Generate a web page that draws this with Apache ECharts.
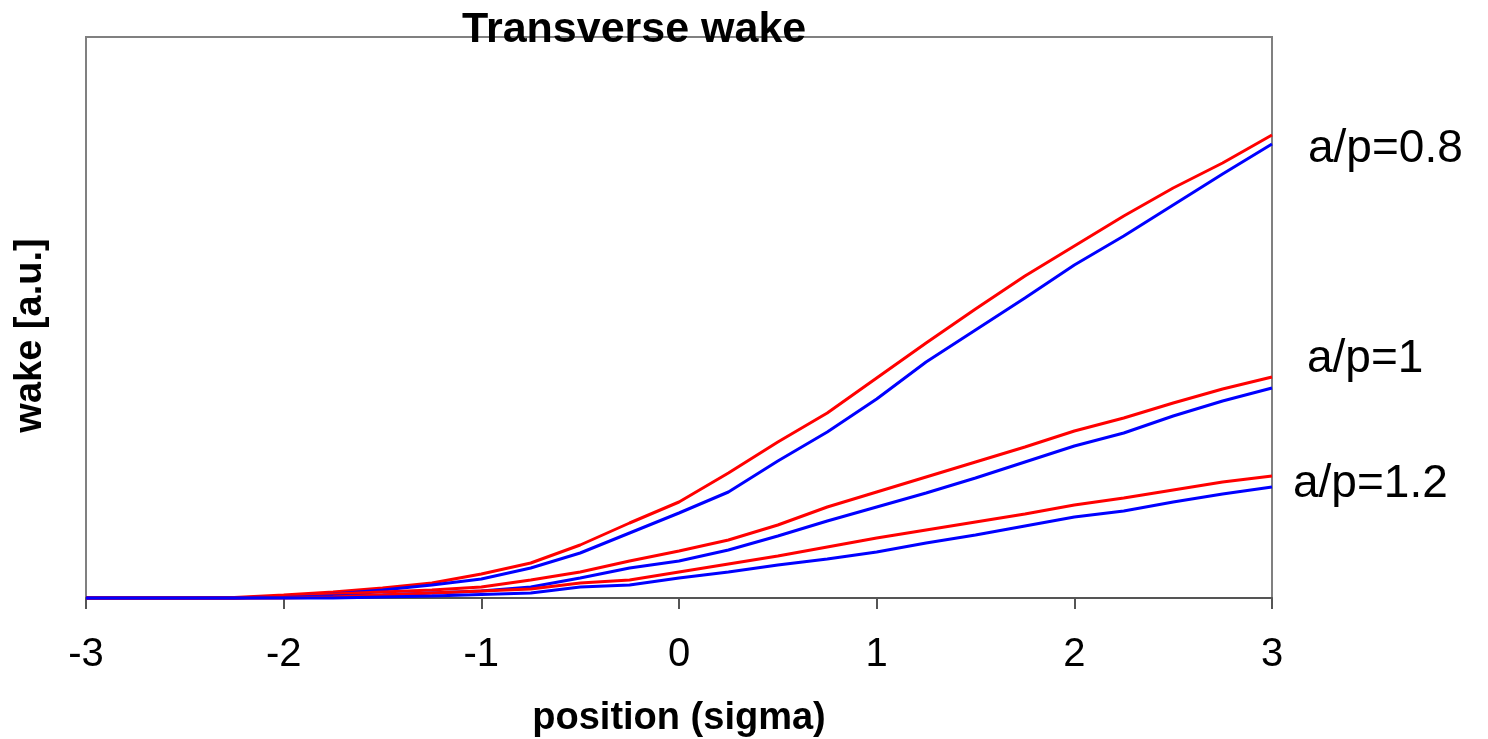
<!DOCTYPE html>
<html>
<head>
<meta charset="utf-8">
<script src="https://cdn.jsdelivr.net/npm/echarts@6/dist/echarts.min.js"></script>
<style>html,body{margin:0;padding:0;background:#fff}#c{width:1488px;height:739px}</style>
</head>
<body>
<div id="c"></div>
<script>
const positions = [-3,-2.75,-2.5,-2.25,-2,-1.75,-1.5,-1.25,-1,-0.75,-0.5,-0.25,0,0.25,0.5,0.75,1,1.25,1.5,1.75,2,2.25,2.5,2.75,3];
const red08  = [0,0,0,0.5,3,6,10,15,24,35,53,75,96,125,156,185,220,255,289,322,352,382,410,435,463];
const blue08 = [0,0,0,0,1.5,4,8,13,19,30,45,65,85,106,137,166,199,236,268,300,333,362,393,424,454];
const red10  = [0,0,0,0,2,4,6,8,11,18,26,37,47,58,73,91,106,121,136,151,167,180,195,209,221];
const blue10 = [0,0,0,0,0.5,2,3,5,7,11,20,30,37,48,62,77,91,105,120,136,152,165,182,197,210];
const red12  = [0,0,0,0,0,1,3,5,7,9,15,18,26,34,42,51,60,68,76,84,93,100,108,116,122];
const blue12 = [0,0,0,0,0,0,1,2,3.5,5,11,13,20,26,33,39,46,55,63,72,81,87,96,104,111];
const xTicks = [-3,-2,-1,0,1,2,3];
const labels = ['a/p=0.8','a/p=1','a/p=1.2'];

const FONT = '"Liberation Sans", Arial, sans-serif';
const zip = ys => positions.map((x,i)=>[x, ys[i]]);

function mk(name, ys, color, label, off){
  const s = {
    name, type:'line', data: zip(ys), showSymbol:false, symbol:'none', clip:false,
    lineStyle:{color, width:3}, itemStyle:{color}, z: 3
  };
  if(label){
    s.endLabel = {show:true, formatter: label, color:'#000', fontSize:46, fontFamily:FONT,
      distance:0, offset: off, align:'left', verticalAlign:'middle'};
  }
  return s;
}

const chart = echarts.init(document.getElementById('c'), null, {renderer:'canvas'});
chart.setOption({
  animation:false,
  backgroundColor:'#fff',
  title:{text:'Transverse wake', left:457, top:4,
    textStyle:{fontSize:43, fontWeight:'bold', color:'#000', fontFamily:FONT}},
  grid:{left:86, top:37, width:1186, height:561, show:true, borderColor:'#808080', borderWidth:2,
    backgroundColor:'transparent', containLabel:false, outerBoundsMode:'none'},
  xAxis:{type:'value', min:-3, max:3, interval:1,
    axisLine:{show:true, onZero:false, lineStyle:{color:'#555', width:2}},
    axisTick:{show:true, length:11, lineStyle:{color:'#555', width:2}},
    splitLine:{show:false},
    axisLabel:{fontSize:40, color:'#000', fontFamily:FONT, margin:37,
      customValues: xTicks},
    name:'position (sigma)', nameLocation:'middle', nameGap:102,
    nameTextStyle:{fontSize:38, fontWeight:'bold', color:'#000', fontFamily:FONT}},
  yAxis:{type:'value', min:0, max:561,
    axisLine:{show:false}, axisTick:{show:false}, axisLabel:{show:false}, splitLine:{show:false},
    name:'wake [a.u.]', nameLocation:'middle', nameGap:36, nameRotate:90,
    nameTextStyle:{fontSize:38, fontWeight:'bold', color:'#000', fontFamily:FONT, padding:[0,36,0,0]}},
  series:[
    mk('red08', red08, '#ff0000', labels[0], [36,14]),
    mk('blue08', blue08, '#0000ff'),
    mk('red10', red10, '#ff0000', labels[1], [35,-18]),
    mk('blue10', blue10, '#0000ff'),
    mk('red12', red12, '#ff0000', labels[2], [21,8]),
    mk('blue12', blue12, '#0000ff')
  ]
});
</script>
</body>
</html>
